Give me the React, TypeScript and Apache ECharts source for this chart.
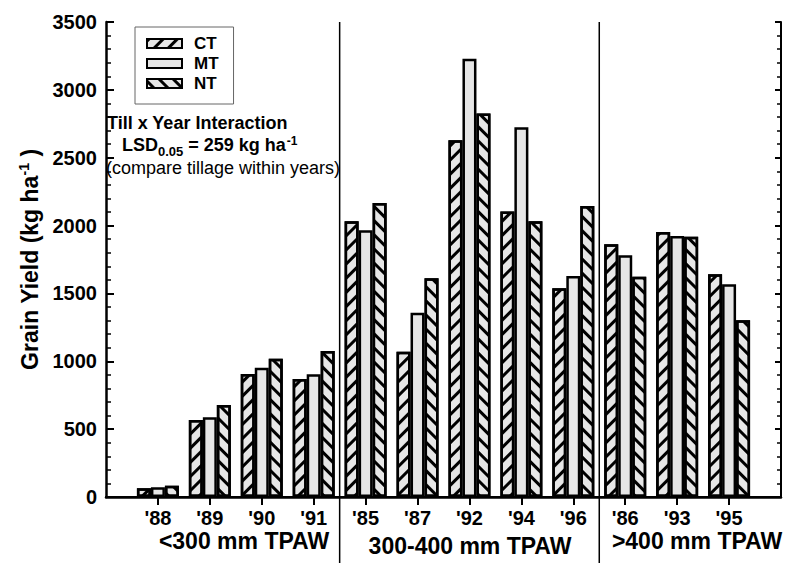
import React, { useEffect, useRef } from 'react';
import * as echarts from 'echarts';

const years = ["'88", "'89", "'90", "'91", "'85", "'87", "'92", "'94", "'96", "'86", "'93", "'95"];
const categories = ['', ...years, ''];
const ctValues = [64, 567, 906, 869, 2032, 1071, 2628, 2103, 1538, 1862, 1953, 1641];
const mtValues = [72, 587, 953, 904, 1965, 1358, 3230, 2724, 1628, 1781, 1923, 1567];
const ntValues = [82, 678, 1019, 1076, 2166, 1611, 2825, 2032, 2144, 1623, 1918, 1302];
const seriesNames = ['CT', 'MT', 'NT'];
const yMin = 0;
const yMax = 3500;
const yInterval = 500;
const groupLabels = ['<300 mm TPAW', '300-400 mm TPAW', '>400 mm TPAW'];
const groupLabelPos = [
  [244, 541],
  [470, 546],
  [697, 541],
];
// divider between category indices (last of a group, first of next)
const dividerPairs = [
  [4, 5],
  [9, 10],
];

const FONT = "'Liberation Sans', Arial, Helvetica, sans-serif";

const pad = (arr: number[]) => [null, ...arr, null];

export default function App() {
  const ref = useRef<HTMLDivElement>(null);

  useEffect(() => {
    document.body.style.margin = '0';
    if (!ref.current) return;
    const chart = echarts.init(ref.current, undefined, { renderer: 'svg' });

    const baseItem = {
      color: '#e6e6e6',
      borderColor: '#000',
      borderWidth: 2.5,
    };
    const stripe = (rot: number) => ({
      symbol: 'rect',
      symbolSize: 1,
      dashArrayX: [1, 0],
      dashArrayY: [3, 7],
      rotation: rot,
      color: '#000',
    });

    const option: any = {
      animation: false,
      backgroundColor: '#fff',
      textStyle: { fontFamily: FONT },
      grid: { left: 106, right: 5, top: 22, bottom: 66, containLabel: false },
      legend: {
        data: seriesNames,
        orient: 'vertical',
        left: 135,
        top: 27,
        icon: 'rect',
        itemWidth: 35,
        itemHeight: 9,
        itemGap: 3,
        padding: [8, 15, 12, 11],
        borderColor: '#666',
        borderWidth: 1,
        textStyle: {
          fontSize: 17,
          fontWeight: 'bold',
          color: '#000',
          fontFamily: FONT,
          lineHeight: 17,
          padding: [0, 0, 0, 7],
        },
      },
      xAxis: [
        {
          type: 'category',
          data: categories,
          boundaryGap: false,
          axisLine: { show: true, lineStyle: { color: '#000', width: 2.5 } },
          axisTick: {
            show: true,
            inside: false,
            length: 8,
            interval: (i: number) => i > 0 && i < categories.length - 1,
            lineStyle: { color: '#000', width: 2 },
          },
          axisLabel: {
            interval: 0,
            fontSize: 20,
            fontWeight: 'bold',
            color: '#000',
            margin: 11,
            fontFamily: FONT,
            lineHeight: 20,
          },
          splitLine: { show: false },
        },
        {
          type: 'category',
          data: categories,
          boundaryGap: false,
          position: 'top',
          axisLine: { show: true, lineStyle: { color: '#000', width: 2 } },
          axisTick: { show: false },
          axisLabel: { show: false },
          splitLine: { show: false },
        },
      ],
      yAxis: [
        {
          type: 'value',
          min: yMin,
          max: yMax,
          interval: yInterval,
          position: 'left',
          name: '{m|Grain Yield (kg ha}{sup|-1}{m| )}',
          nameLocation: 'middle',
          nameGap: 63,
          nameRotate: 90,
          nameTextStyle: {
            color: '#000',
            fontFamily: FONT,
            rich: {
              m: { fontSize: 23, fontWeight: 'bold', color: '#000', fontFamily: FONT, lineHeight: 26, verticalAlign: 'middle' },
              sup: { fontSize: 14, fontWeight: 'bold', color: '#000', fontFamily: FONT, lineHeight: 14, verticalAlign: 'top' },
            },
          },
          axisLine: { show: true, lineStyle: { color: '#000', width: 2.5 } },
          axisTick: { show: true, inside: true, length: 8, lineStyle: { color: '#000', width: 2 } },
          minorTick: { show: true, splitNumber: 5, length: 5, lineStyle: { color: '#000', width: 1.5 } },
          axisLabel: {
            fontSize: 20,
            fontWeight: 'bold',
            color: '#000',
            margin: 9,
            fontFamily: FONT,
            formatter: (v: number) => String(v),
          },
          splitLine: { show: false },
        },
        {
          type: 'value',
          min: yMin,
          max: yMax,
          interval: yInterval,
          position: 'right',
          axisLine: { show: true, lineStyle: { color: '#000', width: 2 } },
          axisTick: { show: true, inside: true, length: 6, lineStyle: { color: '#000', width: 2 } },
          minorTick: { show: true, splitNumber: 5, length: 4, lineStyle: { color: '#000', width: 1.5 } },
          axisLabel: { show: false },
          splitLine: { show: false },
        },
      ],
      series: [
        {
          name: 'CT',
          type: 'bar',
          data: pad(ctValues),
          barWidth: 14,
          barGap: '0%',
          itemStyle: { ...baseItem, decal: stripe(-Math.PI / 4) },
        },
        {
          name: 'MT',
          type: 'bar',
          data: pad(mtValues),
          barWidth: 14,
          barGap: '0%',
          itemStyle: { ...baseItem },
        },
        {
          name: 'NT',
          type: 'bar',
          data: pad(ntValues),
          barWidth: 14,
          barGap: '0%',
          itemStyle: { ...baseItem, decal: stripe(Math.PI / 4) },
        },
      ],
    };

    chart.setOption(option);

    const topY = chart.convertToPixel({ yAxisIndex: 0 }, yMax) as number;
    const graphics: any[] = [];
    dividerPairs.forEach(([a, b]) => {
      const xa = chart.convertToPixel({ xAxisIndex: 0 }, a) as number;
      const xb = chart.convertToPixel({ xAxisIndex: 0 }, b) as number;
      const x = (xa + xb) / 2;
      graphics.push({
        type: 'line',
        shape: { x1: x, y1: topY, x2: x, y2: 563 },
        style: { stroke: '#000', lineWidth: 1.5 },
        z: 10,
      });
    });
    groupLabels.forEach((t, i) => {
      graphics.push({
        type: 'text',
        x: groupLabelPos[i][0],
        y: groupLabelPos[i][1],
        style: {
          text: t,
          fontSize: 23,
          fontWeight: 'bold',
          fontFamily: FONT,
          fill: '#000',
          align: 'center',
          verticalAlign: 'middle',
          lineHeight: 22,
        },
      });
    });
    graphics.push(
      {
        type: 'text',
        x: 107,
        y: 122.5,
        style: {
          text: 'Till x Year Interaction',
          fontSize: 18,
          fontWeight: 'bold',
          fontFamily: FONT,
          fill: '#000',
          align: 'left',
          verticalAlign: 'middle',
          lineHeight: 18,
        },
      },
      {
        type: 'text',
        x: 122,
        y: 145,
        style: {
          text: '{m|LSD}{sub|0.05}{m| = 259 kg ha}{sup|-1}',
          fontFamily: FONT,
          fill: '#000',
          align: 'left',
          verticalAlign: 'middle',
          rich: {
            m: { fontSize: 18, fontWeight: 'bold', fontFamily: FONT, fill: '#000', lineHeight: 18, verticalAlign: 'middle' },
            sub: { fontSize: 13, fontWeight: 'bold', fontFamily: FONT, fill: '#000', lineHeight: 25, verticalAlign: 'bottom' },
            sup: { fontSize: 12, fontWeight: 'bold', fontFamily: FONT, fill: '#000', lineHeight: 12, verticalAlign: 'top', padding: [2, 0, 0, 1] },
          },
        },
      },
      {
        type: 'text',
        x: 106,
        y: 168,
        style: {
          text: '(compare tillage within years)',
          fontSize: 18,
          fontWeight: 'normal',
          fontFamily: FONT,
          fill: '#000',
          align: 'left',
          verticalAlign: 'middle',
          lineHeight: 18,
        },
      }
    );
    chart.setOption({ graphic: graphics });

    return () => {
      chart.dispose();
    };
  }, []);

  return (
    <div
      ref={ref}
      style={{ position: 'absolute', left: 0, top: 0, width: 786, height: 563 }}
    />
  );
}
